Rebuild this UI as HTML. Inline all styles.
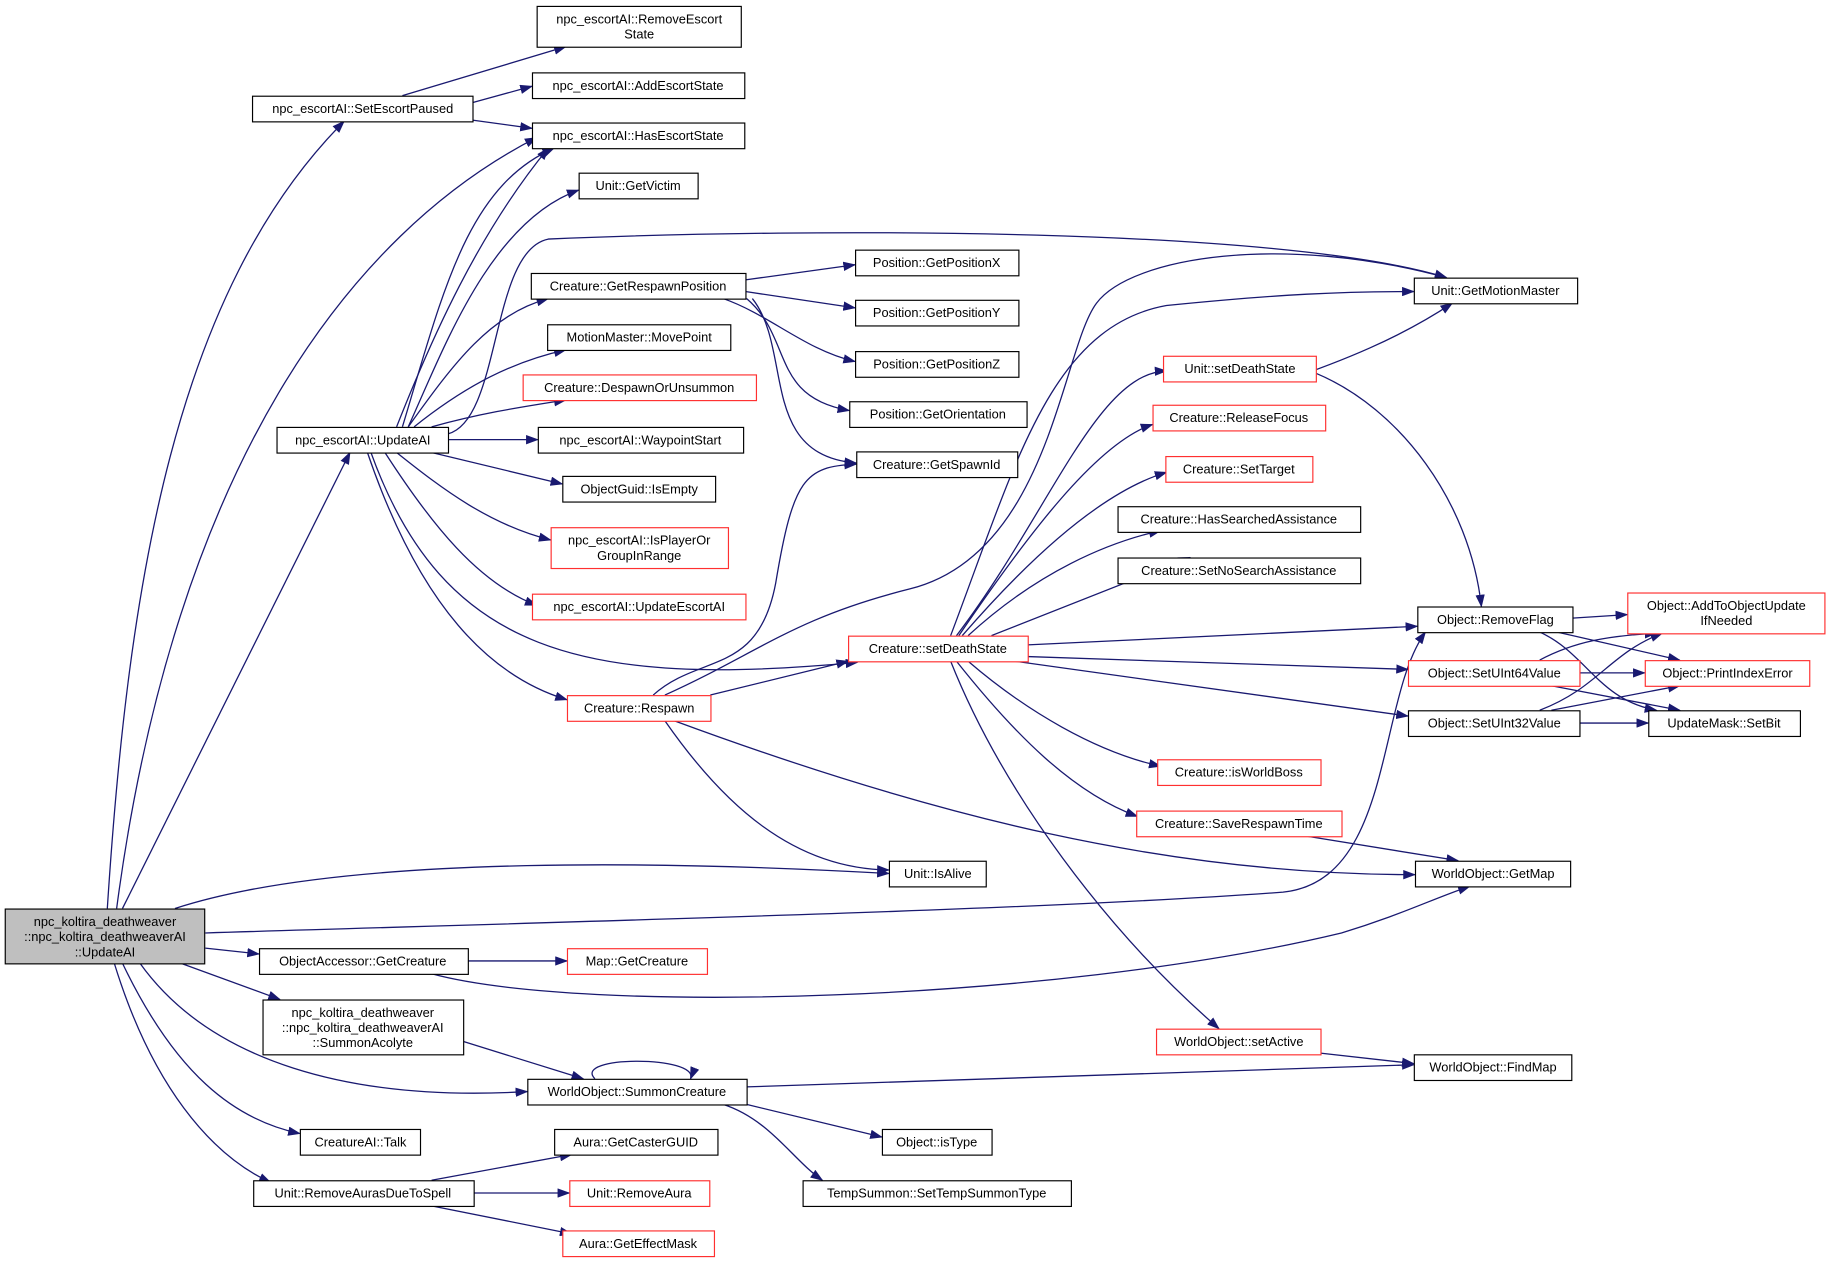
<!DOCTYPE html>
<html><head><meta charset="utf-8"><style>
html,body{margin:0;padding:0;background:#fff;}
svg{display:block;}
text{font-family:"Liberation Sans","DejaVu Sans",sans-serif;font-size:11px;fill:#000;}
</style></head><body>
<svg width="1829" height="1263" viewBox="0 0 1568 1083" preserveAspectRatio="none" xmlns="http://www.w3.org/2000/svg">
<defs>
<marker id="a" markerWidth="11" markerHeight="8" refX="10" refY="4" orient="auto" markerUnits="userSpaceOnUse">
<path d="M0,0 L11,4 L0,8 Z" fill="#191970"/></marker>
</defs>
<g fill="none" stroke="#191970" stroke-width="1.1" marker-end="url(#a)">
<path d="M92,779 C110,500 150,250 295,104"/>
<path d="M100,779 C150,400 300,200 460,118"/>
<path d="M105,779 L300,388"/>
<path d="M150,779 C300,730 600,740 762,749"/>
<path d="M176,800 C500,790 900,780 1100,765 C1195,755 1180,600 1222,542"/>
<path d="M176,813 L222,818"/>
<path d="M155,826 L240,857"/>
<path d="M120,826 C180,910 300,945 452,936"/>
<path d="M105,826 C150,920 200,960 257,972"/>
<path d="M98,826 C130,930 180,990 232,1014"/>
<path d="M345,82 L485,40"/>
<path d="M405,88 L456,74"/>
<path d="M405,103 L456,110"/>
<path d="M340,366 C370,290 410,200 470,127"/>
<path d="M345,366 C380,250 400,160 475,127"/>
<path d="M350,366 C380,300 420,190 496,163"/>
<path d="M384,372 C430,360 420,215 470,205 C700,195 1100,195 1240,238"/>
<path d="M350,366 C390,310 420,270 470,256"/>
<path d="M355,366 C400,330 440,310 485,300"/>
<path d="M370,366 C410,355 440,350 485,343"/>
<path d="M384,377 L461,377"/>
<path d="M370,388 L482,415"/>
<path d="M340,388 C380,420 420,450 472,463"/>
<path d="M330,388 C370,450 410,500 460,519"/>
<path d="M318,388 C380,560 500,590 735,568"/>
<path d="M315,388 C360,520 420,580 486,600"/>
<path d="M639,240 L733,227"/>
<path d="M639,250 L733,264"/>
<path d="M620,256 C660,270 690,300 733,310"/>
<path d="M640,256 C680,290 660,340 728,352"/>
<path d="M645,256 C680,300 650,390 734,397"/>
<path d="M560,596 C600,560 650,580 665,500 C680,410 690,400 734,398"/>
<path d="M570,596 C650,560 680,530 780,505 C900,475 910,300 940,260 C970,220 1100,200 1240,238"/>
<path d="M609,596 L727,567"/>
<path d="M570,618 C620,690 680,745 762,746"/>
<path d="M578,618 C800,700 1000,750 1213,750"/>
<path d="M815,545 C870,400 900,280 1000,262 C1100,252 1150,250 1212,250"/>
<path d="M820,545 C900,440 940,320 1000,318"/>
<path d="M822,545 C880,460 940,380 988,364"/>
<path d="M825,545 C890,470 950,420 1000,405"/>
<path d="M830,545 C890,490 950,465 995,455"/>
<path d="M850,545 L1020,478"/>
<path d="M881,553 L1215,537"/>
<path d="M881,563 L1207,574"/>
<path d="M870,567 L1207,614"/>
<path d="M830,567 C880,610 940,645 995,657"/>
<path d="M820,567 C870,630 920,680 975,700"/>
<path d="M815,567 C860,680 950,800 1045,882"/>
<path d="M1100,327 C1150,310 1200,290 1245,260"/>
<path d="M1128,320 C1200,350 1260,430 1270,520"/>
<path d="M1348,530 L1395,527"/>
<path d="M1335,542 L1440,566"/>
<path d="M1320,542 C1360,560 1370,600 1420,609"/>
<path d="M1320,566 C1350,550 1380,545 1420,543"/>
<path d="M1354,577 L1410,577"/>
<path d="M1330,588 L1440,609"/>
<path d="M1320,609 C1370,590 1380,560 1425,543"/>
<path d="M1330,609 L1440,588"/>
<path d="M1354,620 L1413,620"/>
<path d="M1120,717 L1250,738"/>
<path d="M401,824 L486,824"/>
<path d="M370,835 C500,870 900,860 1150,800 C1200,785 1230,770 1260,760"/>
<path d="M397,893 L500,925"/>
<path d="M510,925 C490,905 600,905 592,925"/>
<path d="M640,932 L1212,913"/>
<path d="M640,947 L756,975"/>
<path d="M620,947 C660,960 680,995 705,1012"/>
<path d="M1132,903 L1212,912"/>
<path d="M370,1012 L490,990"/>
<path d="M406,1023 L488,1023"/>
<path d="M370,1034 L490,1058"/>
</g>
<g stroke-width="1">
<rect x="4.5" y="779.5" width="171" height="47" fill="#bfbfbf" stroke="#000"/>
<text x="90" y="794" text-anchor="middle">npc_koltira_deathweaver</text>
<text x="90" y="807" text-anchor="middle">::npc_koltira_deathweaverAI</text>
<text x="90" y="820" text-anchor="middle">::UpdateAI</text>
</g>
<g fill="#fff" stroke="#000" stroke-width="1">
<rect x="460.5" y="5.5" width="175" height="35"/>
<rect x="216.5" y="82.5" width="189" height="22"/>
<rect x="456.5" y="62.5" width="182" height="22"/>
<rect x="456.5" y="105.5" width="182" height="22"/>
<rect x="496.5" y="148.5" width="102" height="22"/>
<rect x="455.5" y="234.5" width="184" height="22"/>
<rect x="469.5" y="278.5" width="157" height="22"/>
<rect x="237.5" y="366.5" width="147" height="22"/>
<rect x="461.5" y="366.5" width="176" height="22"/>
<rect x="482.5" y="408.5" width="131" height="22"/>
<rect x="733.5" y="214.5" width="140" height="22"/>
<rect x="733.5" y="257.5" width="140" height="22"/>
<rect x="733.5" y="301.5" width="140" height="22"/>
<rect x="728.5" y="344.5" width="152" height="22"/>
<rect x="734.5" y="387.5" width="138" height="22"/>
<rect x="1212.5" y="238.5" width="140" height="22"/>
<rect x="958.5" y="434.5" width="208" height="22"/>
<rect x="958.5" y="478.5" width="208" height="22"/>
<rect x="1215.5" y="520.5" width="133" height="22"/>
<rect x="1207.5" y="609.5" width="147" height="22"/>
<rect x="1413.5" y="609.5" width="130" height="22"/>
<rect x="762.5" y="738.5" width="83" height="22"/>
<rect x="1213.5" y="738.5" width="133" height="22"/>
<rect x="222.5" y="813.5" width="179" height="22"/>
<rect x="225.5" y="857.5" width="172" height="47"/>
<rect x="1212.5" y="904.5" width="135" height="22"/>
<rect x="452.5" y="925.5" width="188" height="22"/>
<rect x="756.5" y="968.5" width="94" height="22"/>
<rect x="257.5" y="968.5" width="103" height="22"/>
<rect x="475.5" y="968.5" width="140" height="22"/>
<rect x="688.5" y="1012.5" width="230" height="22"/>
<rect x="217.5" y="1012.5" width="189" height="22"/>
</g>
<g fill="#fff" stroke="#ff3030" stroke-width="1">
<rect x="448.5" y="321.5" width="200" height="22"/>
<rect x="472.5" y="452.5" width="152" height="35"/>
<rect x="456.5" y="509.5" width="183" height="22"/>
<rect x="486.5" y="596.5" width="123" height="22"/>
<rect x="997.5" y="305.5" width="131" height="22"/>
<rect x="988.5" y="347.5" width="148" height="22"/>
<rect x="999.5" y="391.5" width="126" height="22"/>
<rect x="727.5" y="545.5" width="154" height="22"/>
<rect x="1395.5" y="508.5" width="169" height="35"/>
<rect x="1207.5" y="566.5" width="147" height="22"/>
<rect x="1410.5" y="566.5" width="141" height="22"/>
<rect x="992.5" y="651.5" width="140" height="22"/>
<rect x="974.5" y="695.5" width="176" height="22"/>
<rect x="486.5" y="813.5" width="120" height="22"/>
<rect x="991.5" y="882.5" width="141" height="22"/>
<rect x="488.5" y="1012.5" width="120" height="22"/>
<rect x="482.5" y="1055.5" width="130" height="22"/>
</g>
<g text-anchor="middle">
<text x="548" y="20">npc_escortAI::RemoveEscort</text>
<text x="548" y="33">State</text>
<text x="311" y="97">npc_escortAI::SetEscortPaused</text>
<text x="547" y="77">npc_escortAI::AddEscortState</text>
<text x="547" y="120">npc_escortAI::HasEscortState</text>
<text x="547" y="163">Unit::GetVictim</text>
<text x="547" y="249">Creature::GetRespawnPosition</text>
<text x="548" y="293">MotionMaster::MovePoint</text>
<text x="548" y="336">Creature::DespawnOrUnsummon</text>
<text x="311" y="381">npc_escortAI::UpdateAI</text>
<text x="549" y="381">npc_escortAI::WaypointStart</text>
<text x="548" y="423">ObjectGuid::IsEmpty</text>
<text x="548" y="467">npc_escortAI::IsPlayerOr</text>
<text x="548" y="480">GroupInRange</text>
<text x="548" y="524">npc_escortAI::UpdateEscortAI</text>
<text x="548" y="611">Creature::Respawn</text>
<text x="803" y="229">Position::GetPositionX</text>
<text x="803" y="272">Position::GetPositionY</text>
<text x="803" y="316">Position::GetPositionZ</text>
<text x="804" y="359">Position::GetOrientation</text>
<text x="803" y="402">Creature::GetSpawnId</text>
<text x="1282" y="253">Unit::GetMotionMaster</text>
<text x="1063" y="320">Unit::setDeathState</text>
<text x="1062" y="362">Creature::ReleaseFocus</text>
<text x="1062" y="406">Creature::SetTarget</text>
<text x="1062" y="449">Creature::HasSearchedAssistance</text>
<text x="1062" y="493">Creature::SetNoSearchAssistance</text>
<text x="804" y="560">Creature::setDeathState</text>
<text x="1282" y="535">Object::RemoveFlag</text>
<text x="1480" y="523">Object::AddToObjectUpdate</text>
<text x="1480" y="536">IfNeeded</text>
<text x="1281" y="581">Object::SetUInt64Value</text>
<text x="1481" y="581">Object::PrintIndexError</text>
<text x="1281" y="624">Object::SetUInt32Value</text>
<text x="1478" y="624">UpdateMask::SetBit</text>
<text x="1062" y="666">Creature::isWorldBoss</text>
<text x="1062" y="710">Creature::SaveRespawnTime</text>
<text x="804" y="753">Unit::IsAlive</text>
<text x="1280" y="753">WorldObject::GetMap</text>
<text x="311" y="828">ObjectAccessor::GetCreature</text>
<text x="546" y="828">Map::GetCreature</text>
<text x="311" y="872">npc_koltira_deathweaver</text>
<text x="311" y="885">::npc_koltira_deathweaverAI</text>
<text x="311" y="898">::SummonAcolyte</text>
<text x="1062" y="897">WorldObject::setActive</text>
<text x="1280" y="919">WorldObject::FindMap</text>
<text x="546" y="940">WorldObject::SummonCreature</text>
<text x="803" y="983">Object::isType</text>
<text x="309" y="983">CreatureAI::Talk</text>
<text x="545" y="983">Aura::GetCasterGUID</text>
<text x="803" y="1027">TempSummon::SetTempSummonType</text>
<text x="311" y="1027">Unit::RemoveAurasDueToSpell</text>
<text x="548" y="1027">Unit::RemoveAura</text>
<text x="547" y="1070">Aura::GetEffectMask</text>
</g>
</svg>
</body></html>
